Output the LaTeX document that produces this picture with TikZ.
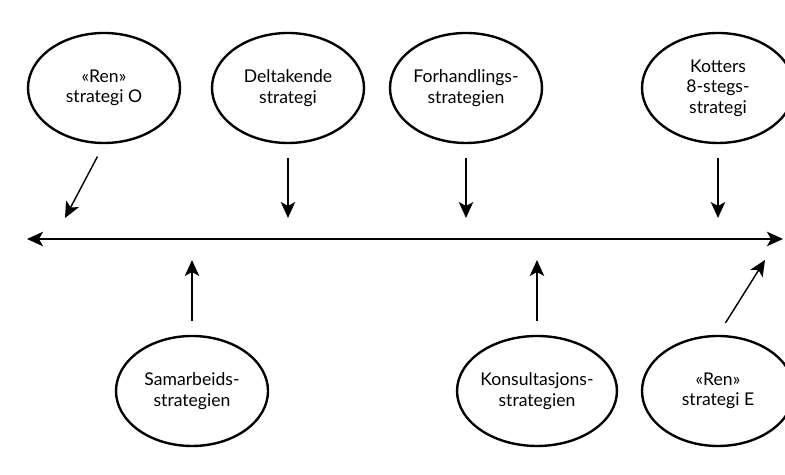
\documentclass[tikz,border=0pt]{standalone}
\usepackage{fontspec}
\setmainfont{Lato}
\usetikzlibrary{shapes.geometric,arrows.meta}

\tikzset{
    strategi/.style={draw, ellipse, line width=1.7pt, minimum width=3.8cm,
        minimum height=2.75cm, inner sep=0pt, align=center,
        font=\fontsize{12.5}{14.5}\selectfont},
    spiss/.tip={Stealth[length=0.4cm,width=0.36cm,inset=0.1cm]},
    pil/.style={-spiss, line width=1pt, shorten <=0.35cm},
}

\begin{document}
\begin{tikzpicture}
    \useasboundingbox (0,0) rectangle (19.625,11.875);
    % continuum
    \coordinate (venstre) at (0.675,5.9);
    \coordinate (hoyre) at (19.575,5.9);
    \draw[spiss-spiss, line width=1.3pt] (venstre) -- (hoyre);
    % strategies above the line
    \node[strategi] (renO) at (2.6,9.675) {«Ren»\\strategi O};
    \node[strategi] (delt) at (7.2,9.675) {Deltakende\\strategi};
    \node[strategi] (forh) at (11.65,9.675) {Forhandlings-\\strategien};
    \node[strategi] (kott) at (17.95,9.675) {Kotters\\8-stegs-\\strategi};
    % strategies below the line
    \node[strategi] (samb) at (4.8,2.1) {Samarbeids-\\strategien};
    \node[strategi] (kons) at (13.425,2.1) {Konsultasjons-\\strategien};
    \node[strategi] (renE) at (17.95,2.1) {«Ren»\\strategi E};
    % arrows down to the line
    \coordinate (renOpil) at (1.625,6.425);
    \draw[pil] (renO.south) -- (renOpil);
    \foreach \n in {delt, forh, kott} {
        \draw[pil, shorten >=0.525cm] (\n.south) -- (\n.south |- venstre);
    }
    % arrows up to the line
    \foreach \n in {samb, kons} {
        \draw[pil, shorten >=0.525cm] (\n.north) -- (\n.north |- venstre);
    }
    \coordinate (renEpil) at (19.125,5.375);
    \draw[pil] (renE.north) -- (renEpil);
\end{tikzpicture}
\end{document}
